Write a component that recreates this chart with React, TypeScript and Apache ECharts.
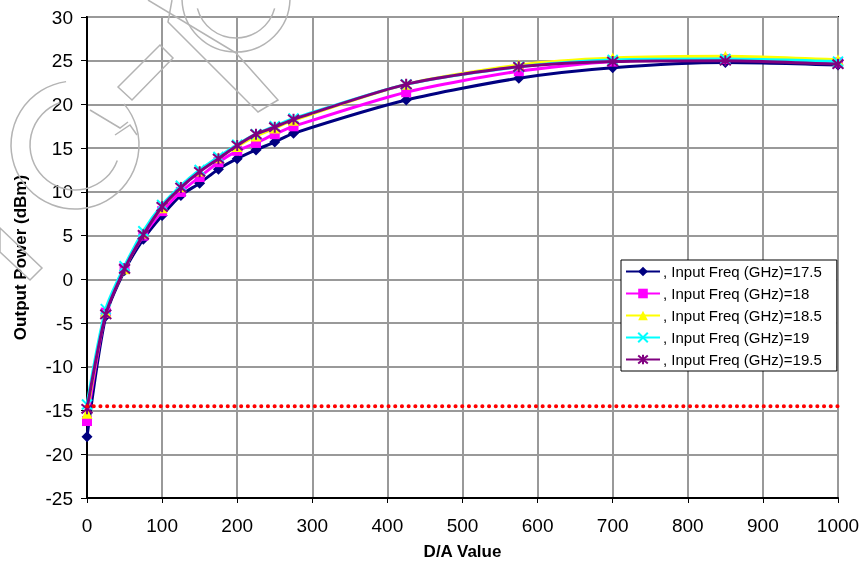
import React, { useEffect, useRef } from "react";
import * as echarts from "echarts";

const xValues = [0, 25, 50, 75, 100, 125, 150, 175, 200, 225, 250, 275, 425, 575, 700, 850, 1000];
const seriesNames = [
  ", Input Freq (GHz)=17.5",
  ", Input Freq (GHz)=18",
  ", Input Freq (GHz)=18.5",
  ", Input Freq (GHz)=19",
  ", Input Freq (GHz)=19.5",
];
const s175 = [-18.0, -4.2, 1.0, 4.6, 7.3, 9.6, 11.0, 12.6, 13.8, 14.8, 15.7, 16.7, 20.5, 23.0, 24.2, 24.8, 24.5];
const s18 = [-16.2, -3.8, 1.3, 5.0, 7.8, 10.0, 11.7, 13.4, 14.7, 15.6, 16.6, 17.5, 21.4, 23.8, 24.9, 25.2, 24.8];
const s185 = [-15.3, -3.7, 1.2, 5.3, 8.2, 10.6, 12.4, 13.9, 15.2, 16.4, 17.3, 18.2, 22.3, 24.5, 25.3, 25.5, 25.1];
const s19 = [-14.3, -3.4, 1.5, 5.5, 8.5, 10.7, 12.5, 14.0, 15.4, 16.6, 17.5, 18.4, 22.3, 24.3, 25.1, 25.2, 24.9];
const s195 = [-14.8, -4.0, 1.2, 5.1, 8.3, 10.5, 12.3, 13.8, 15.3, 16.6, 17.4, 18.3, 22.3, 24.3, 24.9, 25.0, 24.6];
const limitLevel = -14.5;
const limitX = [0, 1000];

const colors = ["#000080", "#FF00FF", "#FFFF00", "#00FFFF", "#800080"];
const symbols = [
  "diamond",
  "rect",
  "triangle",
  "path://M0,0L10,10M10,0L0,10",
  "path://M0,0L10,10M10,0L0,10M5,-1L5,11",
];
const symbolSizes = [11, 10, 11, 10, 11];
const allData = [s175, s18, s185, s19, s195];

const FONT = "Liberation Sans, Arial, sans-serif";

export default function App() {
  const ref = useRef<HTMLDivElement>(null);
  useEffect(() => {
    if (!ref.current) return;
    const chart = echarts.init(ref.current, undefined, { renderer: "svg" });
    const wm = { stroke: "#b4b4b4", fill: "none", lineWidth: 1.5 };
    const d = Math.PI / 180;
    const series: any[] = allData.map((vals, i) => {
      const stroked = i >= 3;
      return {
        name: seriesNames[i],
        type: "line",
        smooth: 0.25,
        data: xValues.map((x, j) => [x, vals[j]]),
        symbol: symbols[i],
        symbolSize: symbolSizes[i],
        showSymbol: true,
        lineStyle: { color: colors[i], width: 3 },
        itemStyle: stroked
          ? { color: colors[i], borderColor: colors[i], borderWidth: 2 }
          : { color: colors[i], borderWidth: 0 },
        z: 3 + i,
      };
    });
    series.push({
      name: "limit",
      type: "line",
      data: limitX.map((x) => [x, limitLevel]),
      symbol: "none",
      lineStyle: { color: "#FF0000", width: 4, type: [0.1, 6.6], cap: "round" },
      z: 10,
      silent: true,
    });
    chart.setOption({
      animation: false,
      textStyle: { fontFamily: FONT },
      grid: { left: 87, right: 27, top: 17, bottom: 73, show: true, borderColor: "#000", borderWidth: 2, backgroundColor: "transparent" },
      xAxis: {
        type: "value",
        min: 0,
        max: 1000,
        interval: 100,
        name: "D/A Value",
        nameLocation: "middle",
        nameGap: 45,
        nameTextStyle: { fontWeight: "bold", fontSize: 17, color: "#000", fontFamily: FONT },
        axisLine: { show: true, onZero: false, lineStyle: { color: "#000", width: 2 } },
        axisTick: { show: true, length: 5, lineStyle: { color: "#000", width: 1 } },
        axisLabel: { fontSize: 19, color: "#000", margin: 18, fontFamily: FONT, formatter: (v: number) => String(v) },
        splitLine: { show: true, lineStyle: { color: "#999", width: 2 } },
      },
      yAxis: {
        type: "value",
        min: -25,
        max: 30,
        interval: 5,
        name: "Output Power (dBm)",
        nameLocation: "middle",
        nameGap: 58,
        nameTextStyle: { fontWeight: "bold", fontSize: 17, color: "#000", fontFamily: FONT },
        axisLine: { show: true, onZero: false, lineStyle: { color: "#000", width: 2 } },
        axisTick: { show: true, length: 6, lineStyle: { color: "#000", width: 1 } },
        axisLabel: { fontSize: 19, color: "#000", margin: 14, fontFamily: FONT },
        splitLine: { show: true, lineStyle: { color: "#999", width: 2 } },
      },
      legend: {
        data: seriesNames,
        orient: "vertical",
        left: 621,
        top: 260,
        itemWidth: 34,
        itemHeight: 12,
        itemGap: 7,
        padding: [4, 15, 4, 4],
        backgroundColor: "#fff",
        borderColor: "#000",
        borderWidth: 1,
        borderRadius: 0,
        textStyle: { fontSize: 15, color: "#000", fontFamily: FONT, padding: [0, 0, 0, -2] },
      },
      graphic: [
        { type: "arc", silent: true, z: 1, shape: { cx: 75, cy: 145, r: 64, startAngle: -40 * d, endAngle: 262 * d, clockwise: true }, style: wm },
        { type: "arc", silent: true, z: 1, shape: { cx: 75, cy: 145, r: 45, startAngle: 20 * d, endAngle: 250 * d, clockwise: true }, style: wm },
        { type: "polyline", silent: true, z: 1, shape: { points: [[90, 110], [120, 128], [128, 122]] }, style: wm },
        { type: "polyline", silent: true, z: 1, shape: { points: [[115, 135], [130, 125], [137, 135]] }, style: wm },
        { type: "arc", silent: true, z: 1, shape: { cx: 236, cy: -2, r: 54, startAngle: 0, endAngle: 180 * d, clockwise: true }, style: wm },
        { type: "arc", silent: true, z: 1, shape: { cx: 236, cy: -2, r: 40, startAngle: 15 * d, endAngle: 165 * d, clockwise: true }, style: wm },
        { type: "polygon", silent: true, z: 1, shape: { points: [[118, 87], [160, 45], [173, 58], [132, 100]] }, style: wm },
        { type: "polyline", silent: true, z: 1, shape: { points: [[148, 0], [236, 53]] }, style: wm },
        { type: "polyline", silent: true, z: 1, shape: { points: [[236, 53], [278, 100], [258, 112], [168, 22], [172, 0]] }, style: wm },
        { type: "polygon", silent: true, z: 1, shape: { points: [[0, 228], [42, 268], [30, 280], [0, 252]] }, style: wm },
      ],
      series,
    });
    return () => chart.dispose();
  }, []);
  return <div ref={ref} style={{ position: "fixed", left: 0, top: 0, width: 865, height: 571 }} />;
}
